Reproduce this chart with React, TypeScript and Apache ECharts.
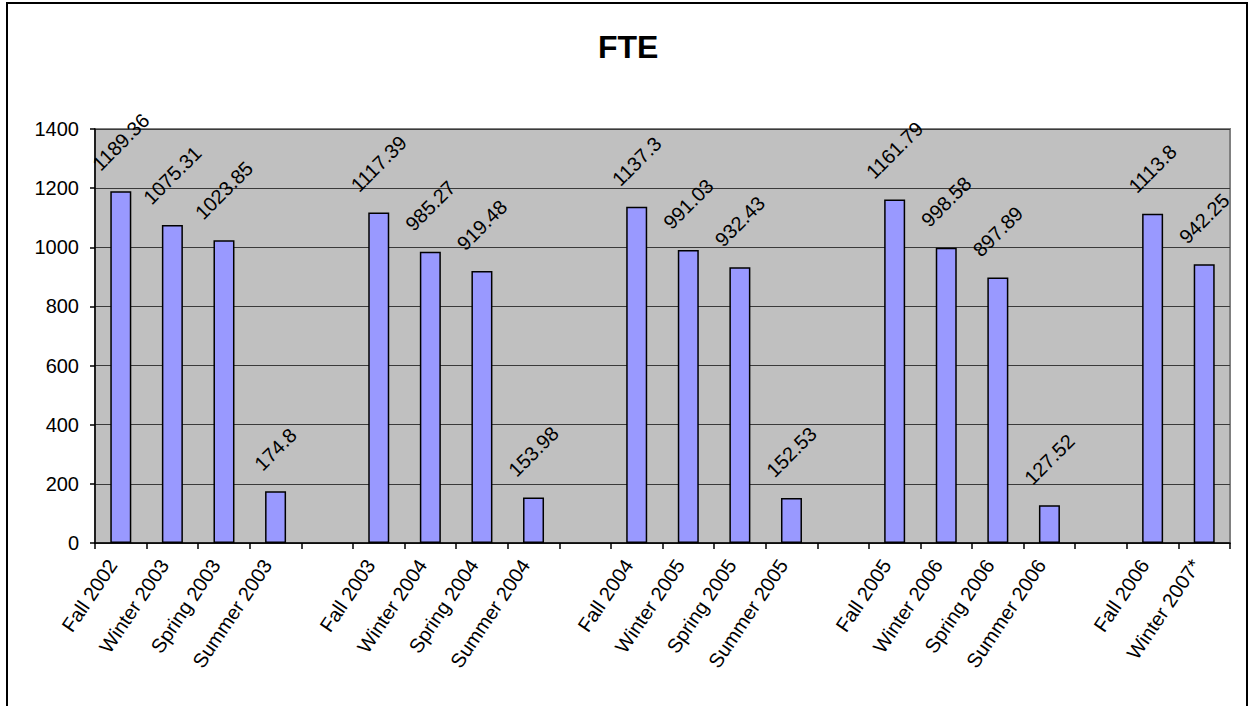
import React, { useEffect, useRef } from "react";
import * as echarts from "echarts";

const categories = [
  "Fall 2002", "Winter 2003", "Spring 2003", "Summer 2003", " ",
  "Fall 2003", "Winter 2004", "Spring 2004", "Summer 2004", "  ",
  "Fall 2004", "Winter 2005", "Spring 2005", "Summer 2005", "   ",
  "Fall 2005", "Winter 2006", "Spring 2006", "Summer 2006", "    ",
  "Fall 2006", "Winter 2007*",
];
const fteValues: (number | null)[] = [
  1189.36, 1075.31, 1023.85, 174.8, null,
  1117.39, 985.27, 919.48, 153.98, null,
  1137.3, 991.03, 932.43, 152.53, null,
  1161.79, 998.58, 897.89, 127.52, null,
  1113.8, 942.25,
];
const yTicks = { min: 0, max: 1400, interval: 200 };
const titleText = "FTE";

const FONT = '"Liberation Sans", Arial, sans-serif';

function measure(s: string, size: number): number {
  const c = document.createElement("canvas").getContext("2d");
  if (!c) return s.length * size * 0.55;
  c.font = `${size}px ${FONT}`;
  return c.measureText(s).width;
}

export default function App() {
  const ref = useRef<HTMLDivElement>(null);
  useEffect(() => {
    if (!ref.current) return;
    const chart = echarts.init(ref.current, null, { renderer: "svg" });
    const data = fteValues.map((v) => {
      if (v == null) return { value: null, label: { show: false } };
      const w = measure(String(v), 20);
      const dist = 19 + ((w + 15) * 0.7071) / 2;
      return { value: v, label: { distance: dist } };
    });
    chart.setOption({
      animation: false,
      backgroundColor: "#ffffff",
      textStyle: { fontFamily: FONT },
      title: {
        text: titleText,
        left: 593,
        top: 26,
        textStyle: { fontFamily: FONT, fontSize: 32, fontWeight: "bold", color: "#000" },
      },
      grid: {
        left: 95,
        right: 20,
        top: 129,
        bottom: 163,
        show: true,
        backgroundColor: "#C0C0C0",
        borderColor: "#808080",
        borderWidth: 2,
      },
      xAxis: {
        type: "category",
        data: categories,
        boundaryGap: true,
        axisLine: { show: true, lineStyle: { color: "#000", width: 1.5 } },
        axisTick: { show: true, length: 6, lineStyle: { color: "#000", width: 1.5 }, alignWithLabel: false },
        axisLabel: {
          interval: 0,
          rotate: 56,
          margin: 24,
          align: "right",
          verticalAlign: "bottom",
          fontSize: 20,
          fontFamily: FONT,
          color: "#000",
        },
        splitLine: { show: false },
      },
      yAxis: {
        type: "value",
        min: yTicks.min,
        max: yTicks.max,
        interval: yTicks.interval,
        axisLine: { show: true, lineStyle: { color: "#000", width: 1.5 } },
        axisTick: { show: true, length: 5, lineStyle: { color: "#000", width: 1.5 } },
        axisLabel: {
          fontSize: 20,
          fontFamily: FONT,
          color: "#000",
          margin: 16,
          formatter: (v: number) => String(v),
        },
        splitLine: { show: true, lineStyle: { color: "#3a3a3a", width: 1.2 } },
      },
      series: [
        {
          type: "bar",
          data,
          barWidth: 21,
          itemStyle: { color: "#9999FF", borderColor: "#000", borderWidth: 1.5 },
          label: {
            show: true,
            position: "top",
            rotate: 45,
            align: "center",
            verticalAlign: "middle",
            fontSize: 20,
            fontFamily: FONT,
            color: "#000",
            formatter: (p: any) => String(p.value),
          },
        },
      ],
      graphic: [
        {
          type: "rect",
          shape: { x: 7, y: 3, width: 1240, height: 800 },
          style: { fill: "none", stroke: "#000", lineWidth: 2 },
          silent: true,
        },
      ],
    });
    return () => chart.dispose();
  }, []);
  return (
    <div
      ref={ref}
      style={{ position: "fixed", left: 0, top: 0, width: 1250, height: 706 }}
    />
  );
}
